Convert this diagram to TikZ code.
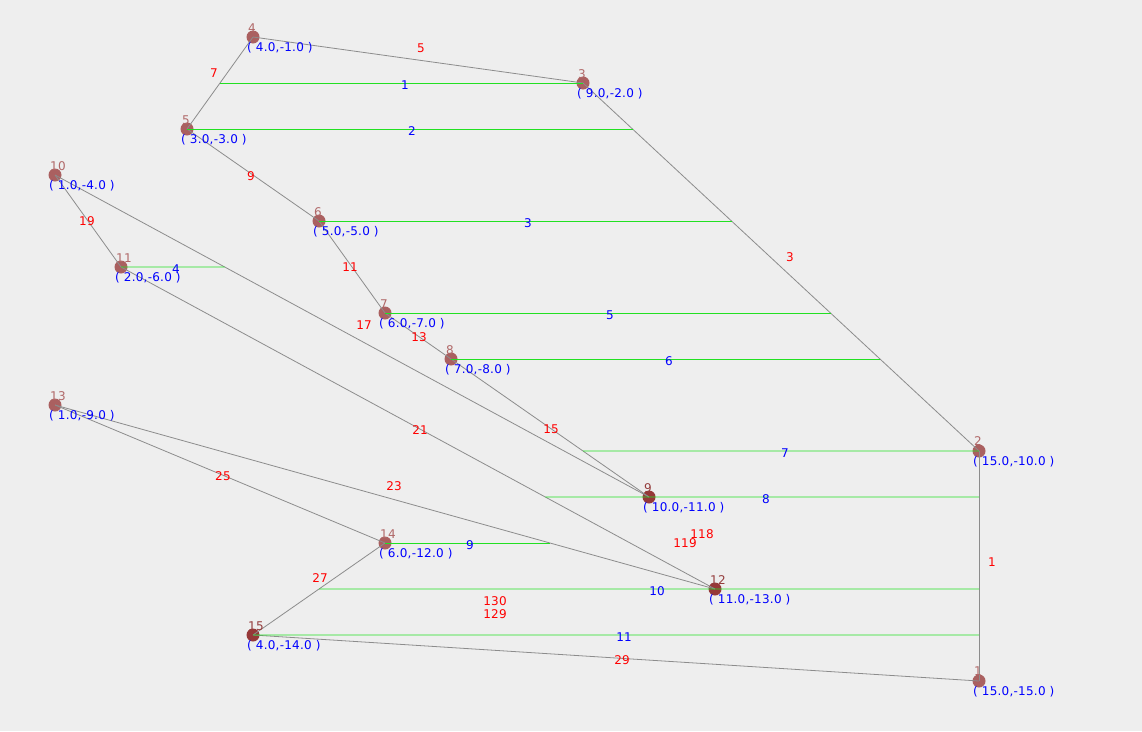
\documentclass[tikz,border=0pt]{standalone}
\usepackage{fontspec}
\setmainfont{DejaVu Sans}[LetterSpace=2]
\usetikzlibrary{calc}
\definecolor{bg}{HTML}{EEEEEE}
\definecolor{vlight}{HTML}{AA6060}
\definecolor{vdark}{HTML}{963838}
\definecolor{numc}{HTML}{B06868}
\definecolor{numd}{HTML}{943C3C}
\definecolor{edgec}{HTML}{8C8C8C}
\definecolor{greenc}{HTML}{22E022}
\begin{document}
\begin{tikzpicture}[x=1pt,y=-1pt,
  vtx/.style={circle,fill=vlight,inner sep=0pt,minimum size=13pt},
  vtxd/.style={vtx,fill=vdark},
  edge/.style={draw=edgec,line width=0.8pt},
  rung/.style={draw=greenc,line width=0.8pt},
  txt/.style={font=\fontsize{12}{12}\selectfont,inner sep=0pt},
  elab/.style={txt,text=red},
  rlab/.style={txt,text=blue},
  nlab/.style={txt,text=numc,anchor=base west},
  nlabd/.style={nlab,text=numd},
  clab/.style={txt,text=blue,anchor=base west}]
\fill[bg] (0,0) rectangle (1142,731);
\useasboundingbox (0,0) rectangle (1142,731);
% vertices
\node[vtx] (n1) at (979,681) {};
\node[vtx] (n2) at (979,451) {};
\node[vtx] (n3) at (583,83) {};
\node[vtx] (n4) at (253,37) {};
\node[vtx] (n5) at (187,129) {};
\node[vtx] (n6) at (319,221) {};
\node[vtx] (n7) at (385,313) {};
\node[vtx] (n8) at (451,359) {};
\node[vtxd] (n9) at (649,497) {};
\node[vtx] (n10) at (55,175) {};
\node[vtx] (n11) at (121,267) {};
\node[vtxd] (n12) at (715,589) {};
\node[vtx] (n13) at (55,405) {};
\node[vtx] (n14) at (385,543) {};
\node[vtxd] (n15) at (253,635) {};
% edges
\draw[edge] (n4.center) -- (n3.center);
\draw[edge] (n4.center) -- (n5.center);
\draw[edge] (n5.center) -- (n6.center);
\draw[edge] (n3.center) -- (n2.center);
\draw[edge] (n2.center) -- (n1.center);
\draw[edge] (n6.center) -- (n7.center);
\draw[edge] (n7.center) -- (n8.center);
\draw[edge] (n8.center) -- (n9.center);
\draw[edge] (n10.center) -- (n11.center);
\draw[edge] (n10.center) -- (n9.center);
\draw[edge] (n11.center) -- (n12.center);
\draw[edge] (n13.center) -- (n12.center);
\draw[edge] (n13.center) -- (n14.center);
\draw[edge] (n14.center) -- (n15.center);
\draw[edge] (n15.center) -- (n1.center);
% rung end points on edges
\coordinate (r1a) at ($(n4.center)!0.5!(n5.center)$);
\coordinate (r2b) at ($(n3.center)!0.125!(n2.center)$);
\coordinate (r3b) at ($(n3.center)!0.375!(n2.center)$);
\coordinate (r4b) at ($(n10.center)!0.28571!(n9.center)$);
\coordinate (r5b) at ($(n3.center)!0.625!(n2.center)$);
\coordinate (r6b) at ($(n3.center)!0.75!(n2.center)$);
\coordinate (r7a) at ($(n8.center)!0.66667!(n9.center)$);
\coordinate (r8a) at ($(n11.center)!0.71429!(n12.center)$);
\coordinate (r8b) at ($(n2.center)!0.2!(n1.center)$);
\coordinate (r9b) at ($(n13.center)!0.75!(n12.center)$);
\coordinate (r10a) at ($(n14.center)!0.5!(n15.center)$);
\coordinate (r10b) at ($(n2.center)!0.6!(n1.center)$);
\coordinate (r11b) at ($(n2.center)!0.8!(n1.center)$);
% rungs
\draw[rung] (r1a) -- (n3.center);
\draw[rung] (n5.center) -- (r2b);
\draw[rung] (n6.center) -- (r3b);
\draw[rung] (n11.center) -- (r4b);
\draw[rung] (n7.center) -- (r5b);
\draw[rung] (n8.center) -- (r6b);
\draw[rung] (r7a) -- (n2.center);
\draw[rung] (r8a) -- (r8b);
\draw[rung] (n14.center) -- (r9b);
\draw[rung] (r10a) -- (r10b);
\draw[rung] (n15.center) -- (r11b);
% rung labels
\node[rlab] (b1) at (405,85) {1};
\node[rlab] (b2) at (412,131) {2};
\node[rlab] (b3) at (528,223) {3};
\node[rlab] (b4) at (176,269) {4};
\node[rlab] (b5) at (610,315) {5};
\node[rlab] (b6) at (669,361) {6};
\node[rlab] (b7) at (785,453) {7};
\node[rlab] (b8) at (766,499) {8};
\node[rlab] (b9) at (470,545) {9};
\node[rlab] (b10) at (657,591) {10};
\node[rlab] (b11) at (624,637) {11};
% edge labels
\node[elab] (e5) at (421,48) {5};
\node[elab] (e7) at (214,73) {7};
\node[elab] (e9) at (251,176) {9};
\node[elab] (e3) at (790,257) {3};
\node[elab] (e1) at (992,562) {1};
\node[elab] (e11) at (350,267) {11};
\node[elab] (e13) at (419,337) {13};
\node[elab] (e15) at (551,429) {15};
\node[elab] (e17) at (364,325) {17};
\node[elab] (e19) at (87,221) {19};
\node[elab] (e21) at (420,430) {21};
\node[elab] (e23) at (394,486) {23};
\node[elab] (e25) at (223,476) {25};
\node[elab] (e27) at (320,578) {27};
\node[elab] (e29) at (622,660) {29};
\node[elab] (e118) at (702,534) {118};
\node[elab] (e119) at (685,543) {119};
\node[elab] (e130) at (495,601) {130};
\node[elab] (e129) at (495,614) {129};
% vertex numbers
\node[nlab] (m1) at (974,675) {1};
\node[nlab] (m2) at (974,445) {2};
\node[nlab] (m3) at (578,78) {3};
\node[nlab] (m4) at (248,32) {4};
\node[nlab] (m5) at (182,124) {5};
\node[nlab] (m6) at (314,216) {6};
\node[nlab] (m7) at (380,308) {7};
\node[nlab] (m8) at (446,354) {8};
\node[nlabd] (m9) at (644,492) {9};
\node[nlab] (m10) at (50,170) {10};
\node[nlab] (m11) at (116,262) {11};
\node[nlabd] (m12) at (710,584) {12};
\node[nlab] (m13) at (50,400) {13};
\node[nlab] (m14) at (380,538) {14};
\node[nlabd] (m15) at (248,630) {15};
% coordinates
\node[clab] (c1) at (973,695) {( 15.0,-15.0 )};
\node[clab] (c2) at (973,465) {( 15.0,-10.0 )};
\node[clab] (c3) at (577,97) {( 9.0,-2.0 )};
\node[clab] (c4) at (247,51) {( 4.0,-1.0 )};
\node[clab] (c5) at (181,143) {( 3.0,-3.0 )};
\node[clab] (c6) at (313,235) {( 5.0,-5.0 )};
\node[clab] (c7) at (379,327) {( 6.0,-7.0 )};
\node[clab] (c8) at (445,373) {( 7.0,-8.0 )};
\node[clab] (c9) at (643,511) {( 10.0,-11.0 )};
\node[clab] (c10) at (49,189) {( 1.0,-4.0 )};
\node[clab] (c11) at (115,281) {( 2.0,-6.0 )};
\node[clab] (c12) at (709,603) {( 11.0,-13.0 )};
\node[clab] (c13) at (49,419) {( 1.0,-9.0 )};
\node[clab] (c14) at (379,557) {( 6.0,-12.0 )};
\node[clab] (c15) at (247,649) {( 4.0,-14.0 )};
\end{tikzpicture}
\end{document}
